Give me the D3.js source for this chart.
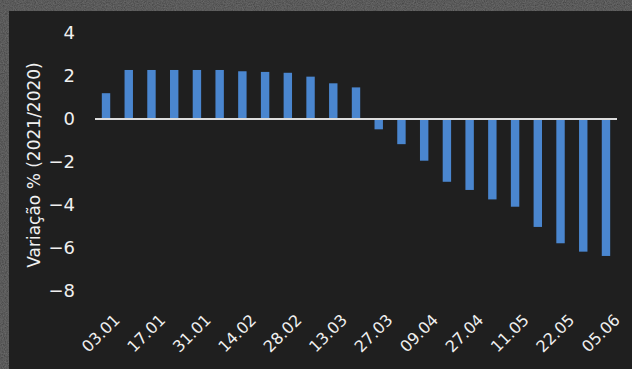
<!DOCTYPE html>
<html>
<head>
<meta charset="utf-8">
<script src="https://cdn.jsdelivr.net/npm/d3@7"></script>
<style>
  html, body { margin: 0; padding: 0; background: #3a3a3a; }
  svg { display: block; }
</style>
</head>
<body>
<svg id="chart" width="632" height="369"></svg>
<script>
// Weekly dates (dd.mm) and year-on-year change in %
const categories = [
  "03.01", "10.01", "17.01", "24.01", "31.01", "07.02", "14.02", "21.02",
  "28.02", "06.03", "13.03", "20.03", "27.03", "02.04", "09.04", "18.04",
  "27.04", "04.05", "11.05", "15.05", "22.05", "29.05", "05.06"
];
const values = [
  1.2, 2.28, 2.28, 2.28, 2.28, 2.28, 2.22, 2.19, 2.15, 1.97, 1.66, 1.47,
  -0.48, -1.17, -1.94, -2.92, -3.3, -3.74, -4.08, -5.02, -5.78, -6.17, -6.37
];
const xTickLabels = ["03.01", "17.01", "31.01", "14.02", "28.02", "13.03",
                     "27.03", "09.04", "27.04", "11.05", "22.05", "05.06"];
const yTicks = [4, 2, 0, -2, -4, -6, -8];
const yTitle = "Variação % (2021/2020)";

const svg = d3.select("#chart");
const W = 632, H = 369;

// Grainy grey frame with the dark chart panel on top
const defs = svg.append("defs");
const grain = defs.append("filter").attr("id", "grain")
  .attr("x", 0).attr("y", 0).attr("width", "100%").attr("height", "100%");
grain.append("feTurbulence").attr("type", "fractalNoise")
  .attr("baseFrequency", 0.9).attr("numOctaves", 2).attr("seed", 3).attr("result", "n");
grain.append("feColorMatrix").attr("in", "n").attr("type", "matrix")
  .attr("values", "0 0 0 0 0.5  0 0 0 0 0.5  0 0 0 0 0.5  0 0 0 0.25 0").attr("result", "g");
grain.append("feComposite").attr("in", "g").attr("in2", "SourceGraphic").attr("operator", "atop");

svg.append("rect").attr("width", W).attr("height", H)
  .attr("fill", "#3d3d3d").attr("filter", "url(#grain)");
svg.append("rect").attr("x", 9).attr("y", 11).attr("width", W - 9).attr("height", H - 11)
  .attr("fill", "#1f1f1f");

const labelFont = "'DejaVu Sans', 'Open Sans', sans-serif";

const x = d3.scaleBand()
  .domain(categories)
  .range([95, 617])
  .paddingInner(0.63)
  .paddingOuter(0.3);

const y = d3.scaleLinear()
  .domain([-8, 4])
  .range([291, 33]);

// Bars
svg.append("g")
  .selectAll("rect")
  .data(categories.map((c, i) => ({ c, v: values[i] })))
  .join("rect")
  .attr("x", d => x(d.c))
  .attr("width", x.bandwidth())
  .attr("y", d => y(Math.max(0, d.v)))
  .attr("height", d => Math.abs(y(d.v) - y(0)))
  .attr("fill", "#4a86cf");

// Zero baseline
svg.append("line")
  .attr("x1", 95).attr("x2", 617)
  .attr("y1", y(0)).attr("y2", y(0))
  .attr("stroke", "#dcdcdc").attr("stroke-width", 2);

// Y axis (labels only)
const yAxis = d3.axisLeft(y).tickValues(yTicks).tickSize(0).tickPadding(0)
  .tickFormat(d3.format("d"));
const yg = svg.append("g").attr("transform", "translate(75,0)").call(yAxis);
yg.select(".domain").remove();
yg.selectAll("text")
  .attr("fill", "#f0f0f0")
  .style("font-family", labelFont)
  .style("font-size", "18px");

// X axis labels, rotated
const xAxis = d3.axisBottom(x).tickValues(xTickLabels).tickSize(0).tickPadding(0);
const xg = svg.append("g").attr("transform", "translate(0,313)").call(xAxis);
xg.select(".domain").remove();
xg.selectAll("text")
  .attr("fill", "#f0f0f0")
  .style("font-family", labelFont)
  .style("font-size", "16px")
  .attr("text-anchor", "end")
  .attr("dy", "0.7em")
  .attr("transform", "translate(7,0) rotate(-45)");

// Y axis title
svg.append("text")
  .attr("transform", `translate(34,${165}) rotate(-90)`)
  .attr("text-anchor", "middle")
  .attr("dy", "0.35em")
  .attr("fill", "#f0f0f0")
  .style("font-family", labelFont)
  .style("font-size", "17px")
  .text(yTitle);
</script>
</body>
</html>
